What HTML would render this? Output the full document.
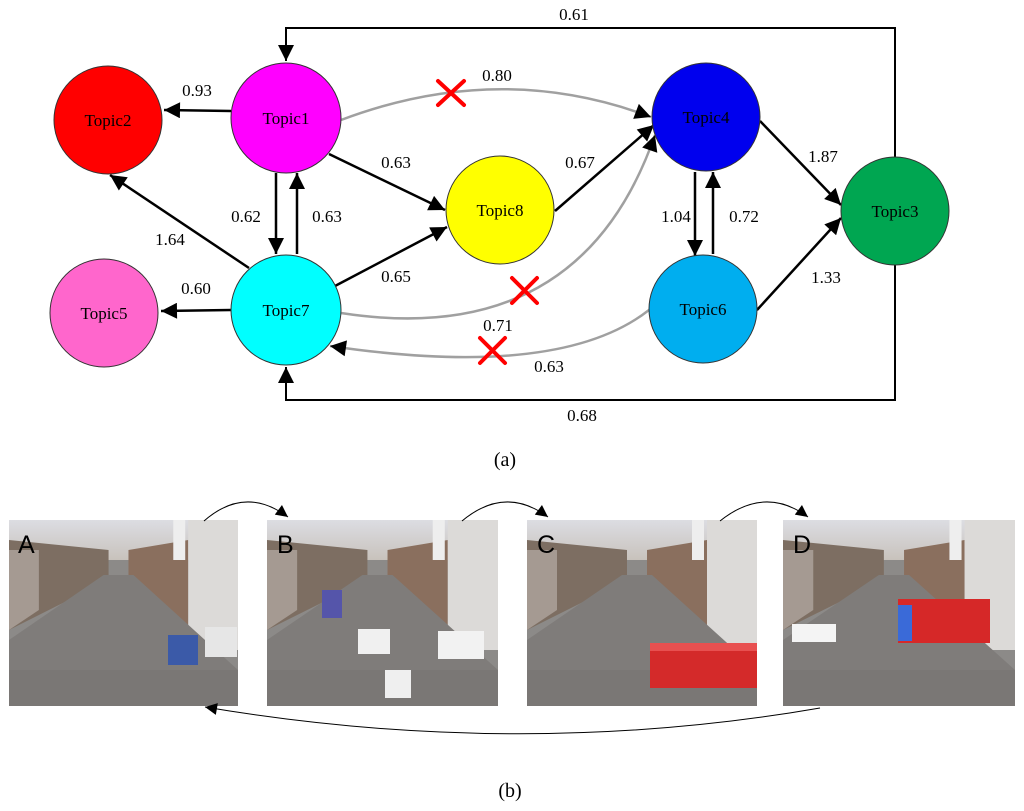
<!DOCTYPE html>
<html><head><meta charset="utf-8"><style>
html,body{margin:0;padding:0;background:#fff;}
svg{display:block;font-family:"Liberation Serif",serif;}
</style></head><body>
<svg width="1024" height="811" viewBox="0 0 1024 811" xmlns="http://www.w3.org/2000/svg">
<defs>
<marker id="abig" viewBox="0 0 10 10" refX="10" refY="5" markerWidth="18" markerHeight="16" orient="auto" markerUnits="userSpaceOnUse"><path d="M0,0 L10,5 L0,10 z" fill="#000"/></marker>
<marker id="asm" viewBox="0 0 10 10" refX="10" refY="5" markerWidth="14" markerHeight="12" orient="auto" markerUnits="userSpaceOnUse"><path d="M0,0 L10,5 L0,10 z" fill="#000"/></marker>
<linearGradient id="sky" x1="0" y1="0" x2="0" y2="1"><stop offset="0" stop-color="#dcdde2"/><stop offset="1" stop-color="#c8c2bc"/></linearGradient>
<symbol id="street" viewBox="0 0 230 186" preserveAspectRatio="none">
<rect width="230" height="186" fill="#8c8a88"/>
<rect width="230" height="40" fill="url(#sky)"/>
<path d="M0,20 L100,30 L100,60 L0,110 z" fill="#7d6e62"/>
<path d="M0,30 L30,30 L30,90 L0,110z" fill="#a59a92"/>
<path d="M120,30 L180,20 L180,110 L120,60 z" fill="#8a6f5e"/>
<rect x="180" y="0" width="50" height="130" fill="#dcdad8"/>
<rect x="165" y="0" width="12" height="40" fill="#eeeeee"/>
<path d="M95,55 L125,55 L230,150 L230,186 L0,186 L0,120 z" fill="#7f7c7a"/>
<rect x="0" y="150" width="230" height="36" fill="#767472" opacity="0.6"/>
</symbol>
</defs>

<polyline points="895,157 895,28 286,28 286,61" fill="none" stroke="#000" stroke-width="2" marker-end="url(#abig)"/>
<polyline points="895,265 895,400 286,400 286,367" fill="none" stroke="#000" stroke-width="2" marker-end="url(#abig)"/>

<path d="M341,120 Q500,60 651,117" fill="none" stroke="#a0a0a0" stroke-width="2.5" marker-end="url(#abig)"/>
<path d="M341,313 Q580,350 655,135" fill="none" stroke="#a0a0a0" stroke-width="2.5" marker-end="url(#abig)"/>
<path d="M649,310 Q560,380 330,346" fill="none" stroke="#a0a0a0" stroke-width="2.5" marker-end="url(#abig)"/>

<g stroke="#000" stroke-width="2.5" fill="none">
<line x1="231" y1="111" x2="164" y2="110" marker-end="url(#abig)"/>
<line x1="329" y1="154" x2="445" y2="210" marker-end="url(#abig)"/>
<line x1="276" y1="173" x2="276" y2="254" marker-end="url(#abig)"/>
<line x1="297" y1="254" x2="297" y2="173" marker-end="url(#abig)"/>
<line x1="249" y1="268" x2="110" y2="175" marker-end="url(#abig)"/>
<line x1="231" y1="310" x2="161" y2="311" marker-end="url(#abig)"/>
<line x1="335" y1="286" x2="447" y2="227" marker-end="url(#abig)"/>
<line x1="555" y1="211" x2="654" y2="125" marker-end="url(#abig)"/>
<line x1="695" y1="172" x2="695" y2="256" marker-end="url(#abig)"/>
<line x1="713" y1="254" x2="713" y2="172" marker-end="url(#abig)"/>
<line x1="760" y1="121" x2="841" y2="205" marker-end="url(#abig)"/>
<line x1="757" y1="310" x2="841" y2="218" marker-end="url(#abig)"/>
</g>

<g stroke="#333" stroke-width="1">
<circle cx="108" cy="120" r="54" fill="#ff0000"/>
<circle cx="286" cy="118" r="55" fill="#ff00ff"/>
<circle cx="500" cy="210" r="54" fill="#ffff00"/>
<circle cx="706" cy="117" r="54" fill="#0000ee"/>
<circle cx="895" cy="211" r="54" fill="#00a651"/>
<circle cx="703" cy="309" r="54" fill="#00aeef"/>
<circle cx="286" cy="310" r="55" fill="#00ffff"/>
<circle cx="104" cy="313" r="54" fill="#ff66cc"/>
</g>
<g font-size="17" text-anchor="middle" fill="#000">
<text x="108" y="126">Topic2</text>
<text x="286" y="124">Topic1</text>
<text x="500" y="216">Topic8</text>
<text x="706" y="123">Topic4</text>
<text x="895" y="217">Topic3</text>
<text x="703" y="315">Topic6</text>
<text x="286" y="316">Topic7</text>
<text x="104" y="319">Topic5</text>
</g>

<g stroke="#ff0000" stroke-width="4" stroke-linecap="round">
<line x1="438" y1="81" x2="464" y2="105"/><line x1="464" y1="81" x2="438" y2="105"/>
<line x1="512" y1="278" x2="537" y2="303"/><line x1="537" y1="278" x2="512" y2="303"/>
<line x1="480" y1="338" x2="505" y2="363"/><line x1="505" y1="338" x2="480" y2="363"/>
</g>

<g font-size="17" fill="#000" text-anchor="middle">
<text x="574" y="20">0.61</text>
<text x="197" y="96">0.93</text>
<text x="497" y="81">0.80</text>
<text x="396" y="168">0.63</text>
<text x="580" y="168">0.67</text>
<text x="823" y="162">1.87</text>
<text x="246" y="222">0.62</text>
<text x="327" y="222">0.63</text>
<text x="170" y="245">1.64</text>
<text x="676" y="222">1.04</text>
<text x="744" y="222">0.72</text>
<text x="396" y="282">0.65</text>
<text x="196" y="294">0.60</text>
<text x="826" y="283">1.33</text>
<text x="498" y="331">0.71</text>
<text x="549" y="372">0.63</text>
<text x="582" y="421">0.68</text>
<text x="505" y="466" font-size="20">(a)</text>
<text x="510" y="797" font-size="20">(b)</text>
</g>

<use href="#street" x="9" y="520" width="229" height="186"/>
<use href="#street" x="267" y="520" width="231" height="186"/>
<use href="#street" x="527" y="520" width="230" height="186"/>
<use href="#street" x="783" y="520" width="232" height="186"/>
<rect x="650" y="643" width="107" height="45" fill="#d42a2a"/>
<rect x="650" y="643" width="107" height="8" fill="#e85050"/>
<rect x="898" y="599" width="92" height="44" fill="#d62828"/>
<rect x="898" y="605" width="14" height="36" fill="#3a6ad8"/>
<rect x="438" y="631" width="46" height="28" fill="#f2f2f2"/>
<rect x="358" y="629" width="32" height="25" fill="#f0f0f0"/>
<rect x="385" y="670" width="26" height="28" fill="#efefef"/>
<rect x="792" y="624" width="44" height="18" fill="#f4f4f4"/>
<rect x="205" y="627" width="32" height="30" fill="#e6e6e6"/>
<rect x="168" y="635" width="30" height="30" fill="#3b5aa8"/>
<rect x="322" y="590" width="20" height="28" fill="#5555aa"/>
<g font-family="'Liberation Sans Narrow','Liberation Sans',sans-serif" font-size="25" fill="#000">
<text x="18" y="553">A</text><text x="277" y="553">B</text><text x="537" y="553">C</text><text x="793" y="553">D</text>
</g>
<g stroke="#000" stroke-width="1" fill="none">
<path d="M204,521 Q245,485 288,517" marker-end="url(#asm)"/>
<path d="M462,521 Q505,485 548,517" marker-end="url(#asm)"/>
<path d="M720,521 Q765,485 808,517" marker-end="url(#asm)"/>
<path d="M820,708 Q520,760 205,707" marker-end="url(#asm)"/>
</g>
</svg>
</body></html>
